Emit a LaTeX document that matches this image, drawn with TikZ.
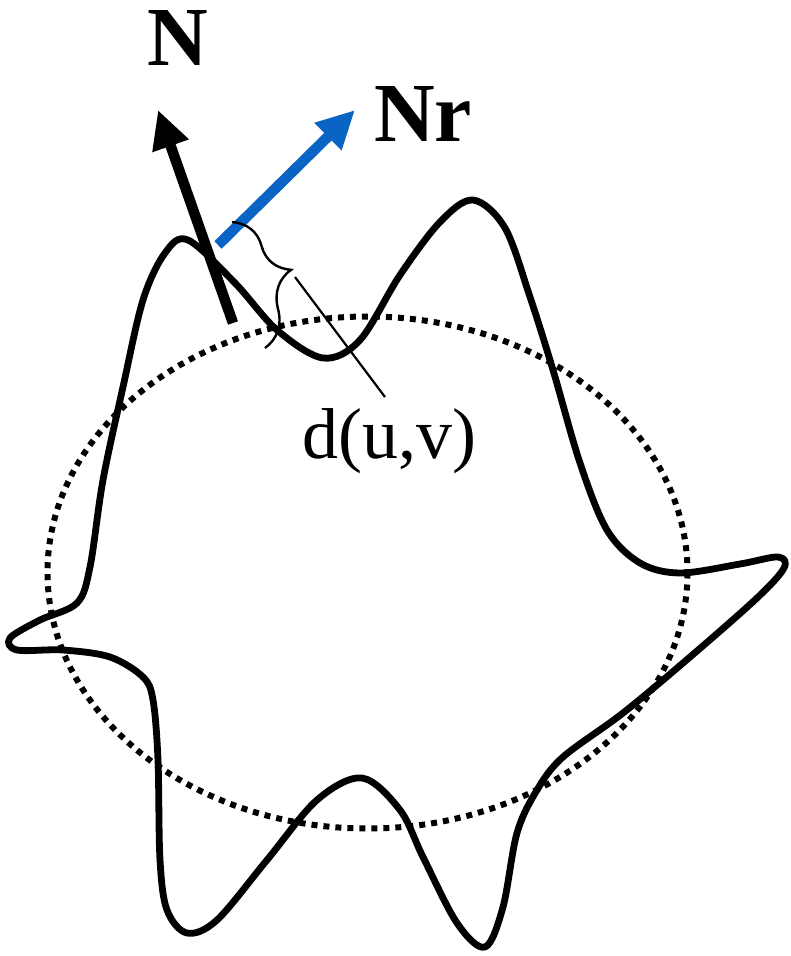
\documentclass[tikz,border=0pt]{standalone}
\usepackage{fontspec}
\setmainfont{Liberation Serif}
\usetikzlibrary{arrows.meta,decorations.pathreplacing}
\definecolor{nrblue}{RGB}{10,100,195}
\begin{document}
\begin{tikzpicture}[x=1pt,y=-1pt,
  curveline/.style={line width=6.8pt,line join=round},
  dotline/.style={line width=6pt,dash pattern=on 6pt off 6pt},
  vec/.style={line width=10.5pt,-{Triangle[length=38pt,width=36pt]}},
  lab/.style={inner sep=0pt,font=\fontsize{84}{90}\selectfont\bfseries}]
\useasboundingbox (0,0) rectangle (790,956);
% reference ellipse
\draw[dotline] (367.5,572.5) ellipse [x radius=320, y radius=256];
% wavy contour
\draw[curveline] plot[smooth cycle,tension=0.55] coordinates {
 (188,240) (235,283) (277,330) (323,358) (360,340) (400,275) (440,222) (473,200)
 (505,228) (530,297) (553,370) (580,463) (607,530) (640,563) (680,573) (740,564)
 (778,557) (784,568) (757,598) (690,657) (623,713) (563,757) (537,790) (517,833)
 (503,907) (485,947) (457,923) (423,857) (400,810) (362,778) (317,800) (267,860)
 (217,920) (187,933) (167,910) (160,860) (158,760) (153,700) (143,677) (110,657)
 (63,650) (17,650) (10,638) (40,620) (77,603) (90,567) (103,480) (123,387) (143,300) (165,253)};
% vectors
\coordinate (nbase) at (233,323);
\coordinate (ntip) at (158,110);
\coordinate (rbase) at (218,245);
\coordinate (rtip) at (355,110);
\draw[vec,black] (nbase) -- (ntip);
\draw[vec,nrblue] (rbase) -- (rtip);
% brace and leader
\coordinate (b1) at (232,222);
\coordinate (b2) at (265,348);
\draw[line width=2.4pt,decorate,decoration={brace,amplitude=45pt,aspect=0.47}] (b1) -- (b2);
\coordinate (l1) at (295,277);
\coordinate (l2) at (385,397);
\draw[line width=2.2pt] (l1) -- (l2);
% labels
\node[lab] (N) at (178,38) {N};
\node[lab] (Nr) at (423,114) {Nr};
\node[inner sep=0pt,anchor=base,font=\fontsize{72}{80}\selectfont] (d) at (389,458) {d(u,v)};
\end{tikzpicture}
\end{document}
